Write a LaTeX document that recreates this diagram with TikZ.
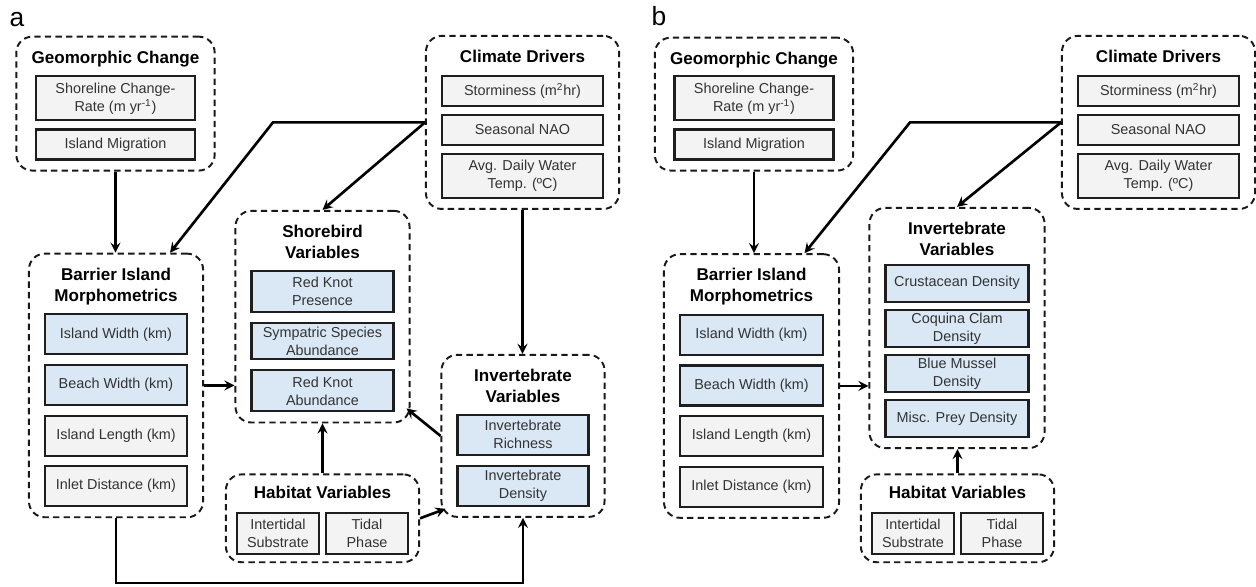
\documentclass[tikz,border=0pt]{standalone}
\usepackage{fontspec}
\setmainfont{Liberation Sans}
\usepackage{xcolor}
\usepackage{tikz}
\usetikzlibrary{arrows, positioning, fit, calc}

\definecolor{boxgray}{RGB}{243,243,243}
\definecolor{boxblue}{RGB}{218,232,246}
\definecolor{boxline}{RGB}{30,30,30}
\definecolor{vartext}{RGB}{51,51,51}
\newcommand{\grouptitlefont}{\fontsize{9.7}{12}\selectfont\bfseries}
\newcommand{\varboxfont}{\fontsize{8.2}{10.2}\selectfont}

\begin{document}
\begin{tikzpicture}[
   node distance = 0.15cm,
   groupbox/.style = {draw=black!90, dash pattern=on 3.6pt off 2.4pt, line width=1.1pt, rounded corners=9pt, inner xsep=0.3cm, inner ysep=0.2cm},
   grouptitle/.style = {font=\grouptitlefont, align=center, inner xsep=0pt, inner ysep=0.08cm},
   varbox/.style = {draw=boxline, line width=1.2pt, fill=boxgray, text=vartext, font=\varboxfont, align=center, inner sep=1pt},
   bluebox/.style = {varbox, fill=boxblue},
   line/.style = {draw, -stealth, line width=1.5pt}
   ]
  \useasboundingbox (0,0) rectangle (25.12,-11.72);

  % Panel labels
  \node[font=\fontsize{15}{18}\selectfont] (labela) at (0.34,-0.40) {a};
  \node[font=\fontsize{15}{18}\selectfont] (labelb) at (13.18,-0.32) {b};

  % ---------------- Panel a ----------------
  % Geomorphic change
  \node[grouptitle] (geoAtitle) at (2.31,-1.18) {Geomorphic Change};
  \node[varbox, minimum width=3.18cm, minimum height=0.88cm, below=0.08cm of geoAtitle] (shorelineA)
   {Shoreline Change-\\Rate (m yr\textsuperscript{-1})};
  \node[varbox, minimum width=3.18cm, minimum height=0.60cm, below=0.14cm of shorelineA] (migrationA)
   {Island Migration};
  \node[groupbox, fit=(geoAtitle)(shorelineA)(migrationA)] (geoA) {};

  % Climate drivers
  \node[grouptitle] (climAtitle) at (10.45,-1.13) {Climate Drivers};
  \node[varbox, minimum width=3.22cm, minimum height=0.60cm, below=0.15cm of climAtitle] (stormA)
   {Storminess (m\textsuperscript{2}hr)};
  \node[varbox, minimum width=3.22cm, minimum height=0.60cm, below=0.14cm of stormA] (naoA)
   {Seasonal NAO};
  \node[varbox, minimum width=3.22cm, minimum height=0.88cm, below=0.14cm of naoA] (tempA)
   {Avg. Daily Water\\Temp. (ºC)};
  \node[groupbox, fit=(climAtitle)(stormA)(naoA)(tempA)] (climA) {};

  % Barrier island morphometrics
  \node[grouptitle] (barAtitle) at (2.32,-5.73) {Barrier Island\\Morphometrics};
  \node[bluebox, minimum width=2.84cm, minimum height=0.80cm, below=0.08cm of barAtitle] (islwidthA)
   {Island Width (km)};
  \node[bluebox, minimum width=2.84cm, minimum height=0.80cm, below=0.17cm of islwidthA] (beachA)
   {Beach Width (km)};
  \node[varbox, minimum width=2.84cm, minimum height=0.80cm, below=0.17cm of beachA] (lengthA)
   {Island Length (km)};
  \node[varbox, minimum width=2.84cm, minimum height=0.80cm, below=0.17cm of lengthA] (inletA)
   {Inlet Distance (km)};
  \node[groupbox, fit=(barAtitle)(islwidthA)(inletA)] (barA) {};

  % Shorebird variables
  \node[grouptitle] (shoreAtitle) at (6.45,-4.84) {Shorebird\\Variables};
  \node[bluebox, minimum width=2.84cm, minimum height=0.82cm, below=0.13cm of shoreAtitle] (presenceA)
   {Red Knot\\Presence};
  \node[bluebox, minimum width=2.84cm, minimum height=0.72cm, below=0.19cm of presenceA] (sympatricA)
   {Sympatric Species\\Abundance};
  \node[bluebox, minimum width=2.84cm, minimum height=0.82cm, below=0.18cm of sympatricA] (abundanceA)
   {Red Knot\\Abundance};
  \node[groupbox, fit=(shoreAtitle)(presenceA)(abundanceA)] (shoreA) {};

  % Invertebrate variables
  \node[grouptitle] (invAtitle) at (10.46,-7.72) {Invertebrate\\Variables};
  \node[bluebox, minimum width=2.62cm, minimum height=0.80cm, below=0.13cm of invAtitle] (richnessA)
   {Invertebrate\\Richness};
  \node[bluebox, minimum width=2.62cm, minimum height=0.80cm, below=0.18cm of richnessA] (densityA)
   {Invertebrate\\Density};
  \node[groupbox, fit=(invAtitle)(richnessA)(densityA)] (invA) {};

  % Habitat variables
  \node[grouptitle] (habAtitle) at (6.45,-9.85) {Habitat Variables};
  \node[varbox, minimum width=1.64cm, minimum height=0.82cm, below=0.17cm of habAtitle, anchor=north east, xshift=-0.05cm] (substrateA)
   {Intertidal\\Substrate};
  \node[varbox, minimum width=1.64cm, minimum height=0.82cm, right=0.1cm of substrateA] (phaseA)
   {Tidal\\Phase};
  \node[groupbox, inner xsep=0.2cm, inner ysep=0.15cm, fit=(habAtitle)(substrateA)(phaseA)] (habA) {};

  % Arrows (a)
  \coordinate (bendA) at ([xshift=-3.04cm]climA.west);
  \coordinate (baseA) at (0,-11.66);
  \draw[line] (geoA.south) -- (geoA.south |- barA.north);
  \draw[line] (climA.west) -- (bendA) -- ([xshift=1.08cm]barA.north);
  \draw[line] (climA.west) -- (shoreA.north);
  \draw[line] (climA.south) -- (climA.south |- invA.north);
  \draw[line] (barA.east) -- (barA.east -| shoreA.west);
  \draw[line] (habA.north) -- (habA.north |- shoreA.south);
  \draw[line] (habA.east) -- ([xshift=0.1cm,yshift=0.18cm]invA.south west);
  \draw[line] (invA.west) -- ([xshift=-0.08cm,yshift=0.3cm]shoreA.south east);
  \draw[line] (barA.south) -- (barA.south |- baseA) -| (invA.south);

  % ---------------- Panel b ----------------
  % Geomorphic change
  \node[grouptitle] (geoBtitle) at (15.08,-1.20) {Geomorphic Change};
  \node[varbox, minimum width=3.18cm, minimum height=0.88cm, below=0.06cm of geoBtitle] (shorelineB)
   {Shoreline Change-\\Rate (m yr\textsuperscript{-1})};
  \node[varbox, minimum width=3.18cm, minimum height=0.60cm, below=0.14cm of shorelineB] (migrationB)
   {Island Migration};
  \node[groupbox, fit=(geoBtitle)(shorelineB)(migrationB)] (geoB) {};

  % Climate drivers
  \node[grouptitle] (climBtitle) at (23.17,-1.13) {Climate Drivers};
  \node[varbox, minimum width=3.22cm, minimum height=0.60cm, below=0.15cm of climBtitle] (stormB)
   {Storminess (m\textsuperscript{2}hr)};
  \node[varbox, minimum width=3.22cm, minimum height=0.60cm, below=0.14cm of stormB] (naoB)
   {Seasonal NAO};
  \node[varbox, minimum width=3.22cm, minimum height=0.88cm, below=0.14cm of naoB] (tempB)
   {Avg. Daily Water\\Temp. (ºC)};
  \node[groupbox, fit=(climBtitle)(stormB)(naoB)(tempB)] (climB) {};

  % Barrier island morphometrics
  \node[grouptitle] (barBtitle) at (15.03,-5.74) {Barrier Island\\Morphometrics};
  \node[bluebox, minimum width=2.86cm, minimum height=0.80cm, below=0.08cm of barBtitle] (islwidthB)
   {Island Width (km)};
  \node[bluebox, minimum width=2.86cm, minimum height=0.80cm, below=0.17cm of islwidthB] (beachB)
   {Beach Width (km)};
  \node[varbox, minimum width=2.86cm, minimum height=0.80cm, below=0.17cm of beachB] (lengthB)
   {Island Length (km)};
  \node[varbox, minimum width=2.86cm, minimum height=0.80cm, below=0.17cm of lengthB] (inletB)
   {Inlet Distance (km)};
  \node[groupbox, fit=(barBtitle)(islwidthB)(inletB)] (barB) {};

  % Invertebrate variables
  \node[grouptitle] (invBtitle) at (19.14,-4.78) {Invertebrate\\Variables};
  \node[bluebox, minimum width=2.86cm, minimum height=0.74cm, below=0.07cm of invBtitle] (crustaceanB)
   {Crustacean Density};
  \node[bluebox, minimum width=2.86cm, minimum height=0.74cm, below=0.12cm of crustaceanB] (coquinaB)
   {Coquina Clam\\Density};
  \node[bluebox, minimum width=2.86cm, minimum height=0.74cm, below=0.12cm of coquinaB] (musselB)
   {Blue Mussel\\Density};
  \node[bluebox, minimum width=2.86cm, minimum height=0.74cm, below=0.12cm of musselB] (preyB)
   {Misc. Prey Density};
  \node[groupbox, fit=(invBtitle)(crustaceanB)(preyB)] (invB) {};

  % Habitat variables
  \node[grouptitle] (habBtitle) at (19.15,-9.85) {Habitat Variables};
  \node[varbox, minimum width=1.64cm, minimum height=0.82cm, below=0.17cm of habBtitle, anchor=north east, xshift=-0.05cm] (substrateB)
   {Intertidal\\Substrate};
  \node[varbox, minimum width=1.64cm, minimum height=0.82cm, right=0.1cm of substrateB] (phaseB)
   {Tidal\\Phase};
  \node[groupbox, inner xsep=0.2cm, inner ysep=0.15cm, fit=(habBtitle)(substrateB)(phaseB)] (habB) {};

  % Arrows (b)
  \coordinate (bendB) at ([xshift=-3.02cm]climB.west);
  \draw[line] (geoB.south) -- (geoB.south |- barB.north);
  \draw[line] (climB.west) -- (bendB) -- ([xshift=1.06cm]barB.north);
  \draw[line] (climB.west) -- (invB.north);
  \draw[line] (barB.east) -- (barB.east -| invB.west);
  \draw[line] (habB.north) -- (habB.north |- invB.south);
\end{tikzpicture}
\end{document}
